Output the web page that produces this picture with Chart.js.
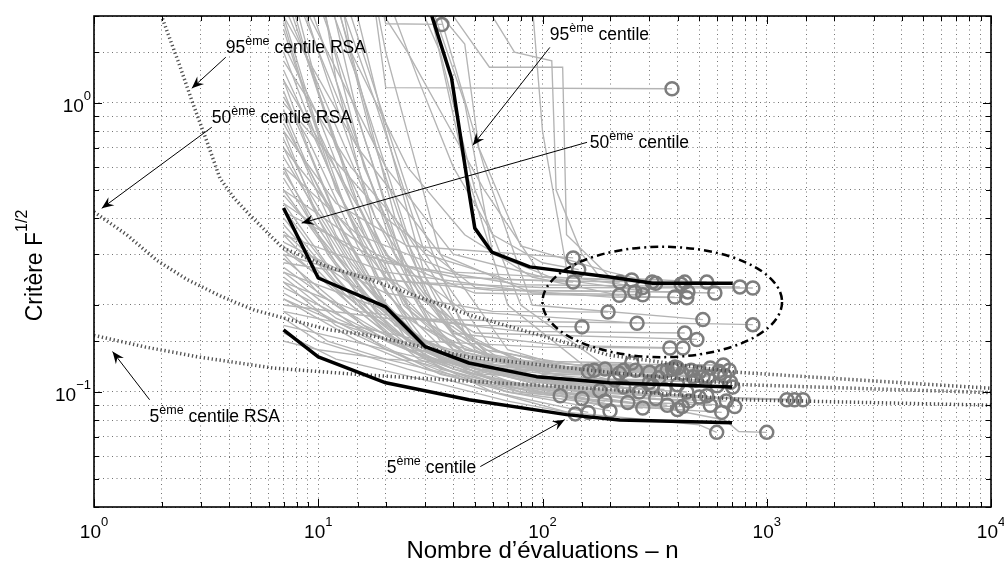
<!DOCTYPE html>
<html>
<head>
<meta charset="utf-8">
<script src="https://cdn.jsdelivr.net/npm/chart.js@4.4.1/dist/chart.umd.min.js"></script>
<style>body{margin:0;background:#fff}canvas{display:block}</style>
</head>
<body>
<canvas id="c" width="1004" height="564"></canvas>
<script>
// axis ranges
var xRange = [1, 10000];
var yRange = [0.04, 2];
var xMajor = [1, 10, 100, 1000, 10000];
var xExp = ['0', '1', '2', '3', '4'];
var yMajor = [1, 0.1];
var yExp = ['0', '\u22121'];

// runs ending in the lower band, [n, F]
var runsBand = [
  [[7,0.16],[12,0.13],[30,0.11],[70,0.093],[140,0.084]],
  [[7,0.18],[10,0.15],[25,0.12],[60,0.1],[160,0.085]],
  [[7,0.21],[15,0.15],[30,0.12],[70,0.1],[200,0.086]],
  [[7,0.25],[12,0.18],[25,0.14],[50,0.115],[120,0.1],[240,0.092]],
  [[7,0.3],[10,0.22],[20,0.15],[40,0.12],[100,0.1],[180,0.09],[280,0.088]],
  [[7,0.35],[14,0.2],[25,0.14],[60,0.11],[200,0.097],[320,0.095]],
  [[7,0.45],[12,0.25],[20,0.16],[40,0.12],[120,0.1],[250,0.092],[360,0.09]],
  [[7,0.6],[11,0.3],[18,0.18],[35,0.13],[80,0.11],[200,0.09],[400,0.087]],
  [[7,0.8],[10,0.4],[16,0.22],[30,0.14],[70,0.115],[200,0.097],[450,0.093]],
  [[7,1.1],[12,0.4],[20,0.2],[35,0.13],[100,0.105],[500,0.096]],
  [[7,1.5],[11,0.6],[18,0.25],[30,0.15],[60,0.12],[150,0.1],[300,0.092],[560,0.09]],
  [[7,2.5],[12,0.7],[20,0.3],[40,0.14],[90,0.12],[160,0.118]],
  [[7,4],[13,1.0],[22,0.3],[45,0.14],[120,0.122],[190,0.12]],
  [[7,6],[15,1.2],[25,0.35],[50,0.15],[100,0.12],[220,0.116]],
  [[7,0.27],[12,0.2],[30,0.13],[60,0.1],[130,0.085],[300,0.08],[500,0.077],[598,0.0725]],
  [[7,0.22],[15,0.16],[35,0.115],[80,0.1],[300,0.09],[650,0.08],[750,0.073],[1000,0.0725]],
  [[7,0.4],[12,0.24],[25,0.15],[60,0.11],[150,0.1],[400,0.096],[1230,0.094]],
  [[7,0.5],[15,0.22],[30,0.14],[80,0.105],[300,0.097],[1330,0.094]],
  [[7,0.7],[12,0.3],[25,0.16],[50,0.12],[200,0.1],[600,0.096],[1450,0.094]],
  [[7,0.19],[11,0.15],[20,0.13],[50,0.11],[120,0.1],[400,0.093],[720,0.089]],
  [[7,0.32],[14,0.2],[28,0.13],[70,0.1],[200,0.09],[630,0.085]],
  [[7,0.9],[12,0.35],[22,0.17],[45,0.13],[100,0.121],[260,0.119]],
  [[7,1.3],[14,0.4],[25,0.18],[50,0.13],[130,0.12],[300,0.117]],
  [[7,2],[10,0.8],[20,0.25],[40,0.14],[100,0.12],[340,0.118]],
  [[7,3],[15,0.7],[28,0.2],[60,0.13],[150,0.121],[380,0.12]],
  [[7,8],[18,1.0],[30,0.3],[60,0.14],[150,0.118],[420,0.116]],
  [[7,0.15],[10,0.14],[20,0.13],[50,0.125],[150,0.12],[460,0.119]],
  [[7,0.17],[14,0.15],[30,0.13],[70,0.12],[200,0.118],[500,0.117]],
  [[7,0.55],[12,0.28],[22,0.16],[40,0.125],[100,0.116],[546,0.113]],
  [[7,0.65],[15,0.25],[30,0.14],[65,0.12],[250,0.115],[650,0.114]],
  [[7,1.8],[12,0.5],[25,0.2],[55,0.12],[180,0.108],[705,0.104]],
  [[7,5],[12,1.5],[20,0.45],[35,0.18],[70,0.125],[150,0.11],[300,0.108]],
  [[7,12],[14,2],[25,0.5],[45,0.16],[100,0.115],[400,0.106]],
  [[7,0.38],[13,0.22],[25,0.14],[55,0.115],[150,0.111],[480,0.11]],
  [[7,0.29],[16,0.17],[40,0.125],[90,0.11],[250,0.106],[600,0.105]],
  [[7,0.24],[12,0.17],[25,0.13],[60,0.108],[180,0.101]],
  [[7,20],[12,4],[20,0.8],[30,0.25],[50,0.14],[100,0.11],[230,0.104]],
  [[7,0.85],[11,0.45],[18,0.22],[35,0.13],[90,0.108],[350,0.102]],
  [[7,1.6],[10,0.9],[16,0.35],[28,0.17],[60,0.13],[200,0.122],[560,0.121]],
  [[7,3.5],[11,1.2],[18,0.4],[32,0.17],[70,0.125],[250,0.12],[680,0.119]],
  [[7,0.95],[9,0.6],[14,0.3],[25,0.15],[60,0.11],[150,0.095]],
  [[7,0.48],[10,0.35],[18,0.2],[35,0.13],[90,0.112],[210,0.11]],
  [[7,1.2],[9,0.7],[13,0.35],[22,0.18],[45,0.12],[120,0.105],[270,0.1]],
  [[7,0.36],[9,0.3],[16,0.22],[30,0.15],[70,0.12],[330,0.112]],
  [[7,2.8],[9,1.4],[14,0.5],[24,0.2],[50,0.12],[150,0.105],[440,0.1]],
  [[7,0.26],[10,0.21],[20,0.14],[45,0.11],[120,0.097]],
  [[7,0.43],[9,0.33],[15,0.2],[30,0.13],[80,0.1],[190,0.093]],
  [[7,9],[10,2.5],[16,0.6],[28,0.22],[55,0.14],[140,0.124],[390,0.122]],
  [[7,30],[9,5],[12,1.2],[18,0.35],[35,0.15],[90,0.12],[230,0.119]],
  [[7,45],[10,6],[14,1.5],[22,0.4],[40,0.16],[100,0.12],[610,0.118]],
  [[7,25],[11,3],[17,0.8],[30,0.22],[60,0.13],[150,0.115],[520,0.113]],
  [[7,70],[13,8],[20,1.5],[35,0.3],[70,0.14],[200,0.11],[690,0.108]],
  [[7,100],[18,10],[30,2.5],[45,0.6],[70,0.2],[150,0.125],[640,0.124]],
  [[7,40],[20,4],[35,1.5],[50,0.5],[80,0.2],[200,0.12],[360,0.119]],
  [[7,0.75],[9,0.5],[14,0.28],[25,0.16],[50,0.125],[150,0.117],[620,0.116]],
  [[7,1.9],[9,1.0],[13,0.45],[20,0.22],[40,0.13],[120,0.115],[470,0.113]],
  [[7,3.2],[10,1.1],[15,0.45],[26,0.19],[55,0.12],[200,0.099],[540,0.097]],
  [[7,0.58],[10,0.37],[18,0.19],[35,0.12],[90,0.1],[280,0.095],[660,0.093]],
  [[7,1.05],[9,0.75],[15,0.32],[30,0.14],[70,0.105],[210,0.09],[420,0.089]],
  [[7,0.31],[11,0.24],[22,0.16],[50,0.12],[130,0.107],[310,0.105]],
  [[7,0.21],[13,0.17],[28,0.14],[70,0.122],[200,0.12],[400,0.121]],
  [[7,14],[10,3.5],[15,0.9],[25,0.25],[45,0.14],[110,0.12],[170,0.119]]
];

// runs ending inside the ellipse
var runsEllipse = [
  [[7,0.8],[12,0.45],[25,0.32],[137,0.291]],
  [[7,0.45],[15,0.3],[40,0.25],[137,0.24]],
  [[7,1.4],[14,0.6],[30,0.3],[70,0.245],[221,0.24]],
  [[7,3],[20,0.6],[40,0.3],[100,0.25],[250,0.244]],
  [[7,0.6],[15,0.35],[40,0.26],[308,0.24]],
  [[7,0.35],[20,0.26],[80,0.225],[258,0.222]],
  [[7,2],[15,0.7],[35,0.3],[90,0.22],[280,0.217]],
  [[7,0.5],[18,0.3],[50,0.22],[389,0.213]],
  [[7,15],[30,2.5],[45,1.0],[60,0.3],[120,0.242],[431,0.24]],
  [[7,0.3],[15,0.25],[60,0.225],[445,0.222]],
  [[7,1.0],[20,0.4],[50,0.23],[200,0.213],[440,0.212]],
  [[7,7],[25,1.5],[55,0.5],[100,0.25],[300,0.222],[587,0.22]],
  [[7,0.42],[20,0.28],[80,0.235],[759,0.231]],
  [[7,0.28],[25,0.24],[100,0.23],[867,0.229]],
  [[7,0.33],[20,0.22],[60,0.19],[196,0.189]],
  [[7,0.24],[15,0.19],[50,0.17],[150,0.168]],
  [[7,1.2],[20,0.3],[45,0.19],[264,0.173]],
  [[7,20],[35,2],[55,0.6],[90,0.2],[519,0.178]],
  [[7,0.2],[20,0.18],[100,0.175],[600,0.172],[867,0.171]],
  [[7,0.26],[25,0.18],[80,0.162],[431,0.16]],
  [[7,0.7],[20,0.25],[50,0.16],[488,0.152]],
  [[7,0.19],[30,0.15],[100,0.143],[370,0.142]],
  [[7,2.2],[18,0.4],[40,0.16],[120,0.145],[423,0.142]],
  [[7,0.23],[25,0.14],[80,0.128],[250,0.126]],
  [[7,50],[22,5],[32,2.2],[45,1.6],[52,0.7],[80,0.32],[200,0.26],[320,0.238]],
  [[7,120],[30,6],[50,2.5],[75,1.5],[110,1.4],[115,0.5],[150,0.3],[180,0.25],[540,0.24]],
  [[7,35],[18,3],[28,1.2],[40,0.6],[60,0.35],[100,0.28],[145,0.265]],
  [[7,9],[14,1.5],[25,0.6],[45,0.35],[90,0.25],[220,0.216]],
  [[7,150],[35,8],[60,3],[90,2.2],[100,0.8],[130,0.25],[280,0.23]]
];

// runs that stay high
var runsHigh = [
  [[7,60],[15,5],[20,1.88],[35.6,1.87]],
  [[7,80],[16,4],[20,1.13],[378,1.12]],
  [[7,90],[25,6],[40,2],[58,1.33],[123,1.33],[128,0.35],[200,0.25],[415,0.236]]
];

// centiles of the runs (thick black)
var cent95 = [[28,2.8],[32.1,2.0],[39.3,1.22],[47.4,0.472],[49.9,0.369],[59.4,0.305],[87.8,0.271],[199.6,0.25],[310,0.238],[705,0.238]];
var cent50 = [[7,0.433],[10,0.248],[20,0.197],[30,0.1435],[47,0.126],[94,0.113],[199,0.1076],[700,0.104]];
var cent5 = [[7,0.164],[10,0.1324],[20,0.1076],[47,0.094],[128,0.0835],[221,0.08],[700,0.0783]];

// RSA centiles (dotted)
var rsa95 = [[1.7,2.8],[2.0,2.0],[2.4,1.36],[2.73,1.02],[3.2,0.73],[3.64,0.55],[4.2,0.47],[4.95,0.41],[6.95,0.315],[11.2,0.27],[17,0.245],[47,0.185],[199,0.134],[735,0.117],[10000,0.103]];
var rsa50 = [[1,0.42],[1.4,0.35],[1.9,0.286],[2.6,0.245],[3.75,0.213],[5.2,0.192],[7.47,0.178],[11.2,0.164],[17,0.157],[47,0.132],[199,0.117],[784,0.106],[10000,0.0995]];
var rsa5 = [[1,0.157],[1.7,0.143],[2.96,0.132],[6.3,0.121],[15,0.115],[47,0.109],[199,0.102],[784,0.094],[10000,0.09]];

// ellipse bounds [nLeft, nRight, FBottom, FTop]
var ellipseBounds = [100, 1170, 0.132, 0.318];

// annotations: text parts, text position, arrow tail, arrow head (data units)
var notes = [
  {t:[['95',0],['ème',1],[' centile RSA',0]], pos:[3.87,1.485], tail:[3.87,1.44], head:[2.73,1.124]},
  {t:[['50',0],['ème',1],[' centile RSA',0]], pos:[3.35,0.851], tail:[3.35,0.824], head:[1.083,0.432]},
  {t:[['5',0],['ème',1],[' centile RSA',0]], pos:[1.77,0.079], tail:[1.77,0.094], head:[1.21,0.138]},
  {t:[['95',0],['ème',1],[' centile',0]], pos:[107.8,1.646], tail:[107.8,1.557], head:[48.9,0.714]},
  {t:[['50',0],['ème',1],[' centile',0]], pos:[162.5,0.698], tail:[158,0.731], head:[8.43,0.384]},
  {t:[['5',0],['ème',1],[' centile',0]], pos:[20.2,0.0526], tail:[52.8,0.0552], head:[125.6,0.0802]}
];

var FONT = '"Liberation Sans", Arial, Helvetica, sans-serif';

function xy(arr) {
  return arr.map(function (p) { return {x: p[0], y: p[1]}; });
}

function supText(ctx, x, y, parts, size, supSize, raise, align) {
  var w = 0;
  parts.forEach(function (p) {
    ctx.font = (p[1] ? supSize : size) + 'px ' + FONT;
    w += ctx.measureText(p[0]).width;
  });
  var cx = align === 'center' ? x - w / 2 : (align === 'right' ? x - w : x);
  parts.forEach(function (p) {
    ctx.font = (p[1] ? supSize : size) + 'px ' + FONT;
    ctx.fillText(p[0], cx, p[1] ? y - raise : y);
    cx += ctx.measureText(p[0]).width;
  });
}

function arrow(ctx, x1, y1, x2, y2) {
  ctx.beginPath();
  ctx.moveTo(x1, y1);
  ctx.lineTo(x2, y2);
  ctx.stroke();
  var a = Math.atan2(y2 - y1, x2 - x1);
  var L = 12, W = 5;
  var bx = x2 - L * Math.cos(a), by = y2 - L * Math.sin(a);
  var nx = x2 - L * 0.65 * Math.cos(a), ny = y2 - L * 0.65 * Math.sin(a);
  ctx.beginPath();
  ctx.moveTo(x2, y2);
  ctx.lineTo(bx + W * Math.sin(a), by - W * Math.cos(a));
  ctx.lineTo(nx, ny);
  ctx.lineTo(bx - W * Math.sin(a), by + W * Math.cos(a));
  ctx.closePath();
  ctx.fill();
}

function isMajor(v) {
  var l = Math.log10(v);
  return Math.abs(l - Math.round(l)) < 1e-6;
}

var decor = {
  id: 'decor',
  afterDatasetsDraw: function (chart) {
    var ctx = chart.ctx, a = chart.chartArea;
    var xs = chart.scales.x, ys = chart.scales.y;
    ctx.save();

    // ellipse
    var x1 = xs.getPixelForValue(ellipseBounds[0]), x2 = xs.getPixelForValue(ellipseBounds[1]);
    var y1 = ys.getPixelForValue(ellipseBounds[3]), y2 = ys.getPixelForValue(ellipseBounds[2]);
    ctx.beginPath();
    ctx.setLineDash([8, 4, 2, 4]);
    ctx.lineWidth = 2.5;
    ctx.strokeStyle = '#000';
    ctx.ellipse((x1 + x2) / 2, (y1 + y2) / 2, (x2 - x1) / 2, (y2 - y1) / 2, 0, 0, Math.PI * 2);
    ctx.stroke();
    ctx.setLineDash([]);

    // annotations
    ctx.fillStyle = '#000';
    ctx.strokeStyle = '#000';
    ctx.lineWidth = 1;
    ctx.textBaseline = 'alphabetic';
    notes.forEach(function (n) {
      arrow(ctx, xs.getPixelForValue(n.tail[0]), ys.getPixelForValue(n.tail[1]),
        xs.getPixelForValue(n.head[0]), ys.getPixelForValue(n.head[1]));
      supText(ctx, xs.getPixelForValue(n.pos[0]), ys.getPixelForValue(n.pos[1]), n.t, 17.5, 12.5, 8, 'left');
    });

    // inner tick marks
    ctx.lineWidth = 1;
    ctx.beginPath();
    xs.ticks.forEach(function (t) {
      var p = Math.round(xs.getPixelForValue(t.value)) + 0.5;
      var len = isMajor(t.value) ? 8 : 5;
      ctx.moveTo(p, a.bottom); ctx.lineTo(p, a.bottom - len);
      ctx.moveTo(p, a.top); ctx.lineTo(p, a.top + len);
    });
    ys.ticks.forEach(function (t) {
      var p = Math.round(ys.getPixelForValue(t.value)) + 0.5;
      var len = isMajor(t.value) ? 8 : 5;
      ctx.moveTo(a.left, p); ctx.lineTo(a.left + len, p);
      ctx.moveTo(a.right, p); ctx.lineTo(a.right - len, p);
    });
    ctx.stroke();

    // box
    ctx.lineWidth = 1.6;
    ctx.strokeRect(a.left, a.top, a.right - a.left, a.bottom - a.top);
    ctx.restore();
  },
  afterDraw: function (chart) {
    var ctx = chart.ctx, a = chart.chartArea;
    var xs = chart.scales.x, ys = chart.scales.y;
    ctx.save();
    ctx.fillStyle = '#000';
    xMajor.forEach(function (v, i) {
      supText(ctx, xs.getPixelForValue(v), a.bottom + 31, [['10', 0], [xExp[i], 1]], 19, 13, 12, 'center');
    });
    yMajor.forEach(function (v, i) {
      supText(ctx, a.left - 3, ys.getPixelForValue(v) + 9.5, [['10', 0], [yExp[i], 1]], 19, 13, 12, 'right');
    });
    // axis titles
    supText(ctx, (a.left + a.right) / 2, 558, [['Nombre d\u2019\u00e9valuations \u2013 n', 0]], 24, 16, 0, 'center');
    ctx.translate(41.5, (a.top + a.bottom) / 2 + 4);
    ctx.rotate(-Math.PI / 2);
    supText(ctx, 0, 0, [['Crit\u00e8re F', 0], ['1/2', 1]], 23, 16, 15, 'center');
    ctx.restore();
  }
};

var allRuns = runsBand.concat(runsEllipse, runsHigh);
var datasets = [];
allRuns.forEach(function (r) {
  datasets.push({data: xy(r), borderColor: '#b4b4b4', borderWidth: 1.35, pointRadius: 0, order: 10, clip: 0});
});
var ends = allRuns.map(function (r) { return r[r.length - 1]; });
datasets.push({data: xy(ends), showLine: false, pointRadius: 6.5, pointBorderWidth: 2.5,
  pointBorderColor: '#7d7d7d', pointBackgroundColor: 'rgba(0,0,0,0)', order: 8});
[rsa95, rsa50, rsa5].forEach(function (r) {
  datasets.push({data: xy(r), borderColor: '#505050', borderWidth: 3.5, borderDash: [1.3, 2.7],
    borderCapStyle: 'butt', pointRadius: 0, order: 6, clip: 0});
});
[cent95, cent50, cent5].forEach(function (r) {
  datasets.push({data: xy(r), borderColor: '#000', borderWidth: 3.5, pointRadius: 0, order: 2, clip: 0,
    borderJoinStyle: 'round'});
});

var ctx = document.getElementById('c').getContext('2d');
new Chart(ctx, {
  type: 'line',
  data: {datasets: datasets},
  options: {
    responsive: false,
    animation: false,
    events: [],
    layout: {padding: {left: 94, right: 13, top: 16, bottom: 57}},
    plugins: {legend: {display: false}, tooltip: {enabled: false}},
    elements: {line: {tension: 0}},
    scales: {
      x: {
        type: 'logarithmic', min: xRange[0], max: xRange[1],
        ticks: {display: false},
        grid: {color: 'rgba(0,0,0,0.55)', lineWidth: 1, drawTicks: false},
        border: {display: false, dash: [1, 3.5]},
        afterFit: function (s) { s.height = 0; }
      },
      y: {
        type: 'logarithmic', min: yRange[0], max: yRange[1],
        ticks: {display: false},
        grid: {color: 'rgba(0,0,0,0.55)', lineWidth: 1, drawTicks: false},
        border: {display: false, dash: [1, 3.5]},
        afterFit: function (s) { s.width = 0; }
      }
    }
  },
  plugins: [decor]
});
</script>
</body>
</html>
